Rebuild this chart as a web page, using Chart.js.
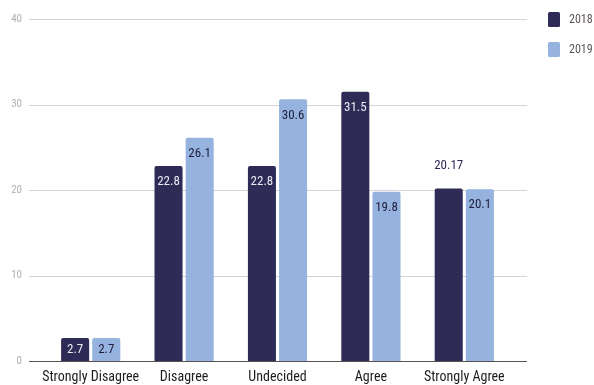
<!DOCTYPE html>
<html>
<head>
<meta charset="utf-8">
<script src="https://cdn.jsdelivr.net/npm/chart.js@4"></script>
<style>
  html, body { margin: 0; padding: 0; background: #fff; }
  #wrap { width: 594px; height: 385px; position: relative; }
</style>
</head>
<body>
<div id="wrap"><canvas id="chart"></canvas></div>
<script>
// data
const categories = ["Strongly Disagree", "Disagree", "Undecided", "Agree", "Strongly Agree"];
const values2018 = [2.7, 22.8, 22.8, 31.5, 20.17];
const values2019 = [2.7, 26.1, 30.6, 19.8, 20.1];
const seriesNames = ["2018", "2019"];
const yTicks = [0, 10, 20, 30, 40];

const FONT = '"Roboto Condensed", "Liberation Sans Narrow", "DejaVu Sans Condensed", Roboto, sans-serif';
const DARK = "#2e2b57";
const LIGHT = "#96b2de";

// grid lines run a bit wider than the bars, like the original
const gridPlugin = {
  id: "wideGrid",
  beforeDatasetsDraw(chart) {
    const { ctx, chartArea, scales } = chart;
    const left = chartArea.left - 15;
    const right = chartArea.right + 16;
    ctx.save();
    yTicks.forEach(t => {
      const y = Math.round(scales.y.getPixelForValue(t)) + 0.5;
      ctx.strokeStyle = t === 0 ? "#5a5050" : "#d4d4d4";
      ctx.lineWidth = 1;
      ctx.beginPath();
      ctx.moveTo(left, y);
      ctx.lineTo(right, y);
      ctx.stroke();
    });
    ctx.restore();
  }
};

// value labels on the bars
const labelPlugin = {
  id: "barLabels",
  afterDatasetsDraw(chart) {
    const { ctx } = chart;
    ctx.save();
    ctx.font = "13px " + FONT;
    ctx.textAlign = "center";
    ctx.textBaseline = "middle";
    chart.data.datasets.forEach((ds, i) => {
      const meta = chart.getDatasetMeta(i);
      meta.data.forEach((bar, j) => {
        const txt = String(ds.data[j]);
        const w = ctx.measureText(txt).width;
        const top = bar.y;
        const bottom = bar.base;
        if (w > bar.width - 2) {
          ctx.fillStyle = DARK;
          ctx.fillText(txt, bar.x, top - 23);
        } else {
          ctx.fillStyle = i === 0 ? "#eceaf4" : "#1f1d3a";
          ctx.fillText(txt, bar.x, Math.min(top + 16, (top + bottom) / 2));
        }
      });
    });
    ctx.restore();
  }
};

// legend in the top right corner
const legendPlugin = {
  id: "sideLegend",
  afterDraw(chart) {
    const { ctx } = chart;
    ctx.save();
    ctx.font = "12px " + FONT;
    ctx.textBaseline = "middle";
    ctx.textAlign = "left";
    chart.data.datasets.forEach((ds, i) => {
      const y = 12 + i * 30;
      ctx.fillStyle = ds.backgroundColor;
      ctx.beginPath();
      ctx.roundRect(548, y, 12, 15, 1.5);
      ctx.fill();
      ctx.fillStyle = "#5e5656";
      ctx.fillText(ds.label, 569, y + 7.5);
    });
    ctx.restore();
  }
};

new Chart(document.getElementById("chart"), {
  type: "bar",
  data: {
    labels: categories,
    datasets: [
      { label: seriesNames[0], data: values2018, backgroundColor: DARK, borderRadius: 2, borderSkipped: "bottom" },
      { label: seriesNames[1], data: values2019, backgroundColor: LIGHT, borderRadius: 2, borderSkipped: "bottom" }
    ]
  },
  options: {
    responsive: true,
    maintainAspectRatio: false,
    animation: false,
    layout: { padding: { top: 19, left: 0, right: 83, bottom: 0 } },
    categoryPercentage: 0.667,
    barPercentage: 0.9,
    plugins: {
      legend: { display: false },
      tooltip: { enabled: false }
    },
    scales: {
      x: {
        grid: { display: false, drawTicks: false },
        border: { display: false },
        afterFit(axis) { axis.height = 24; },
        ticks: { color: "#1e1e1e", font: { family: FONT, size: 14 }, padding: 8, maxRotation: 0, autoSkip: false }
      },
      y: {
        min: 0,
        max: 40,
        afterBuildTicks(axis) { axis.ticks = yTicks.map(v => ({ value: v })); },
        afterFit(axis) { axis.width = 44; axis.paddingTop = 0; axis.paddingBottom = 0; },
        grid: { display: false, drawTicks: false },
        border: { display: false },
        ticks: { color: "#b0b0b0", font: { family: FONT, size: 11 }, padding: 22 }
      }
    }
  },
  plugins: [gridPlugin, labelPlugin, legendPlugin]
});
</script>
</body>
</html>
